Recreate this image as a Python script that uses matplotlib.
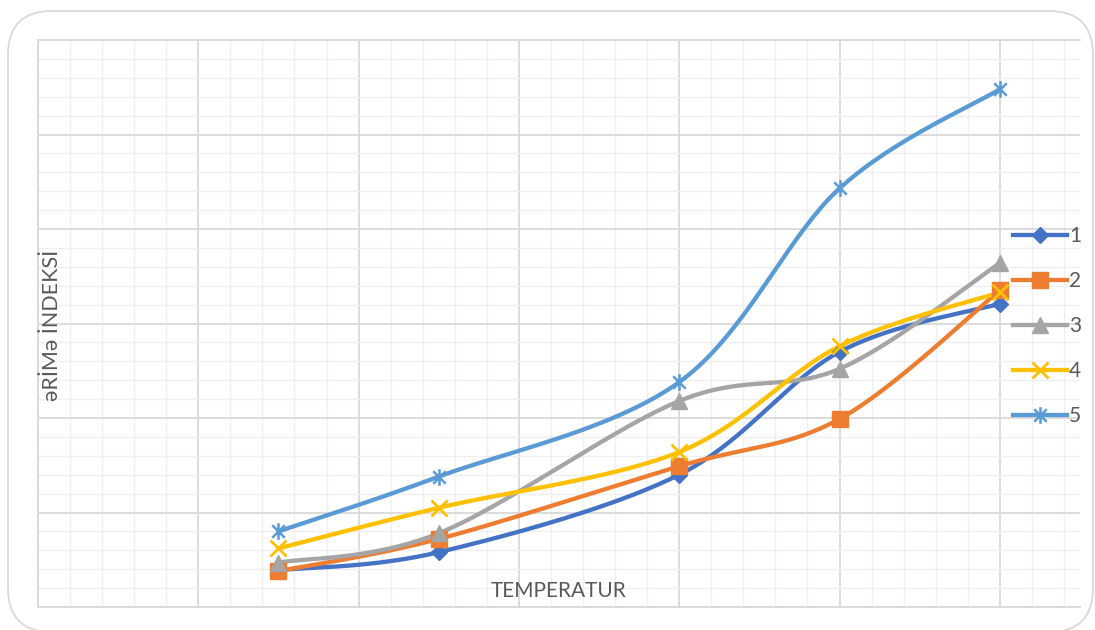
import numpy as np
import matplotlib
matplotlib.use("Agg")
import matplotlib.pyplot as plt
from matplotlib.path import Path
from matplotlib.patches import FancyBboxPatch
from matplotlib.ticker import MultipleLocator

# temperature points and melting index for five samples
temperature = [15, 25, 40, 50, 60]
series_names = ["1", "2", "3", "4", "5"]
index_1 = [0.39, 0.58, 1.40, 2.70, 3.21]
index_2 = [0.38, 0.72, 1.49, 1.99, 3.35]
index_3 = [0.47, 0.78, 2.18, 2.52, 3.64]
index_4 = [0.62, 1.05, 1.64, 2.76, 3.33]
index_5 = [0.80, 1.38, 2.38, 4.43, 5.48]

colors = ["#4472C4", "#ED7D31", "#A5A5A5", "#FFC000", "#5B9BD5"]

# excel-like asterisk marker: an x with a vertical bar
star = Path(
    [(-0.75, -0.75), (0.75, 0.75), (-0.75, 0.75), (0.75, -0.75), (0, -1), (0, 1)],
    [Path.MOVETO, Path.LINETO, Path.MOVETO, Path.LINETO, Path.MOVETO, Path.LINETO],
)
markers = [
    dict(marker="D", markersize=8),
    dict(marker="s", markersize=11),
    dict(marker="^", markersize=11),
    dict(marker="x", markersize=11, markeredgewidth=2),
    dict(marker=star, markersize=12, markeredgewidth=1.8),
]


def smooth(x, y, n=40):
    """Catmull-Rom style bezier smoothing, like Excel's smoothed line."""
    pts = np.column_stack([x, y]).astype(float)
    ext = np.vstack([pts[0], pts, pts[-1]])
    out = []
    for i in range(len(pts) - 1):
        p0, p1, p2, p3 = ext[i], ext[i + 1], ext[i + 2], ext[i + 3]
        c1 = p1 + (p2 - p0) / 6.0
        c2 = p2 - (p3 - p1) / 6.0
        t = np.linspace(0, 1, n)[:, None]
        seg = ((1 - t) ** 3) * p1 + 3 * ((1 - t) ** 2) * t * c1 + 3 * (1 - t) * t ** 2 * c2 + t ** 3 * p2
        out.append(seg if i == 0 else seg[1:])
    out = np.vstack(out)
    return out[:, 0], out[:, 1]


plt.rcParams["font.family"] = ["Lato", "DejaVu Sans"]

fig = plt.figure(figsize=(10.95, 6.3), dpi=100)
W, H = 1095, 630

# rounded chart frame, kept behind the axes
frame = FancyBboxPatch((8 / W, (630 - 632) / H), 1085 / W, 621 / H,
                       boxstyle="round,pad=0,rounding_size=0.04",
                       transform=fig.transFigure, facecolor="white",
                       edgecolor="#d9d9d9", linewidth=1.3, mutation_aspect=W / H,
                       zorder=-5)
fig.patches.append(frame)

ax = fig.add_axes([38 / W, (630 - 607) / H, (1080 - 38) / W, (607 - 40) / H])
ax.set_zorder(1)
ax.set_facecolor("none")
ax.set_xlim(0, 65)
ax.set_ylim(0, 6)
ax.xaxis.set_major_locator(MultipleLocator(10))
ax.xaxis.set_minor_locator(MultipleLocator(2))
ax.yaxis.set_major_locator(MultipleLocator(1))
ax.yaxis.set_minor_locator(MultipleLocator(0.2))
ax.grid(which="minor", color="#efefef", linewidth=1.0)
ax.grid(which="major", color="#d9d9d9", linewidth=1.3)
ax.set_axisbelow(True)
ax.tick_params(which="both", length=0, labelbottom=False, labelleft=False)
for side in ["left", "bottom", "top"]:
    ax.spines[side].set_color("#d9d9d9")
    ax.spines[side].set_linewidth(1.3)
ax.spines["right"].set_visible(False)

all_series = [index_1, index_2, index_3, index_4, index_5]
for name, vals, col, mk in zip(series_names, all_series, colors, markers):
    sx, sy = smooth(temperature, vals)
    ax.plot(sx, sy, color=col, linewidth=3.1, solid_capstyle="round", zorder=3)
    ax.plot(temperature, vals, linestyle="none", color=col, zorder=4, **mk)
    ax.plot([], [], color=col, linewidth=3.1, label=name, **mk)

leg = ax.legend(loc="upper left", bbox_to_anchor=(1013 / W, (630 - 226) / H),
                bbox_transform=fig.transFigure, frameon=False, fontsize=15,
                handlelength=2.6, handletextpad=0.1, labelspacing=1.2,
                borderaxespad=0, borderpad=0)
for t in leg.get_texts():
    t.set_color("#595959")

ax.text(559 / W, (630 - 591) / H, "TEMPERATUR", transform=fig.transFigure,
        ha="center", va="center", fontsize=15, color="#595959")
ax.text(52 / W, (630 - 325) / H, "əRİMə İNDEKSİ", transform=fig.transFigure,
        ha="center", va="center", rotation=90, fontsize=15.5, color="#595959")

fig.savefig("out.png", dpi=100)
